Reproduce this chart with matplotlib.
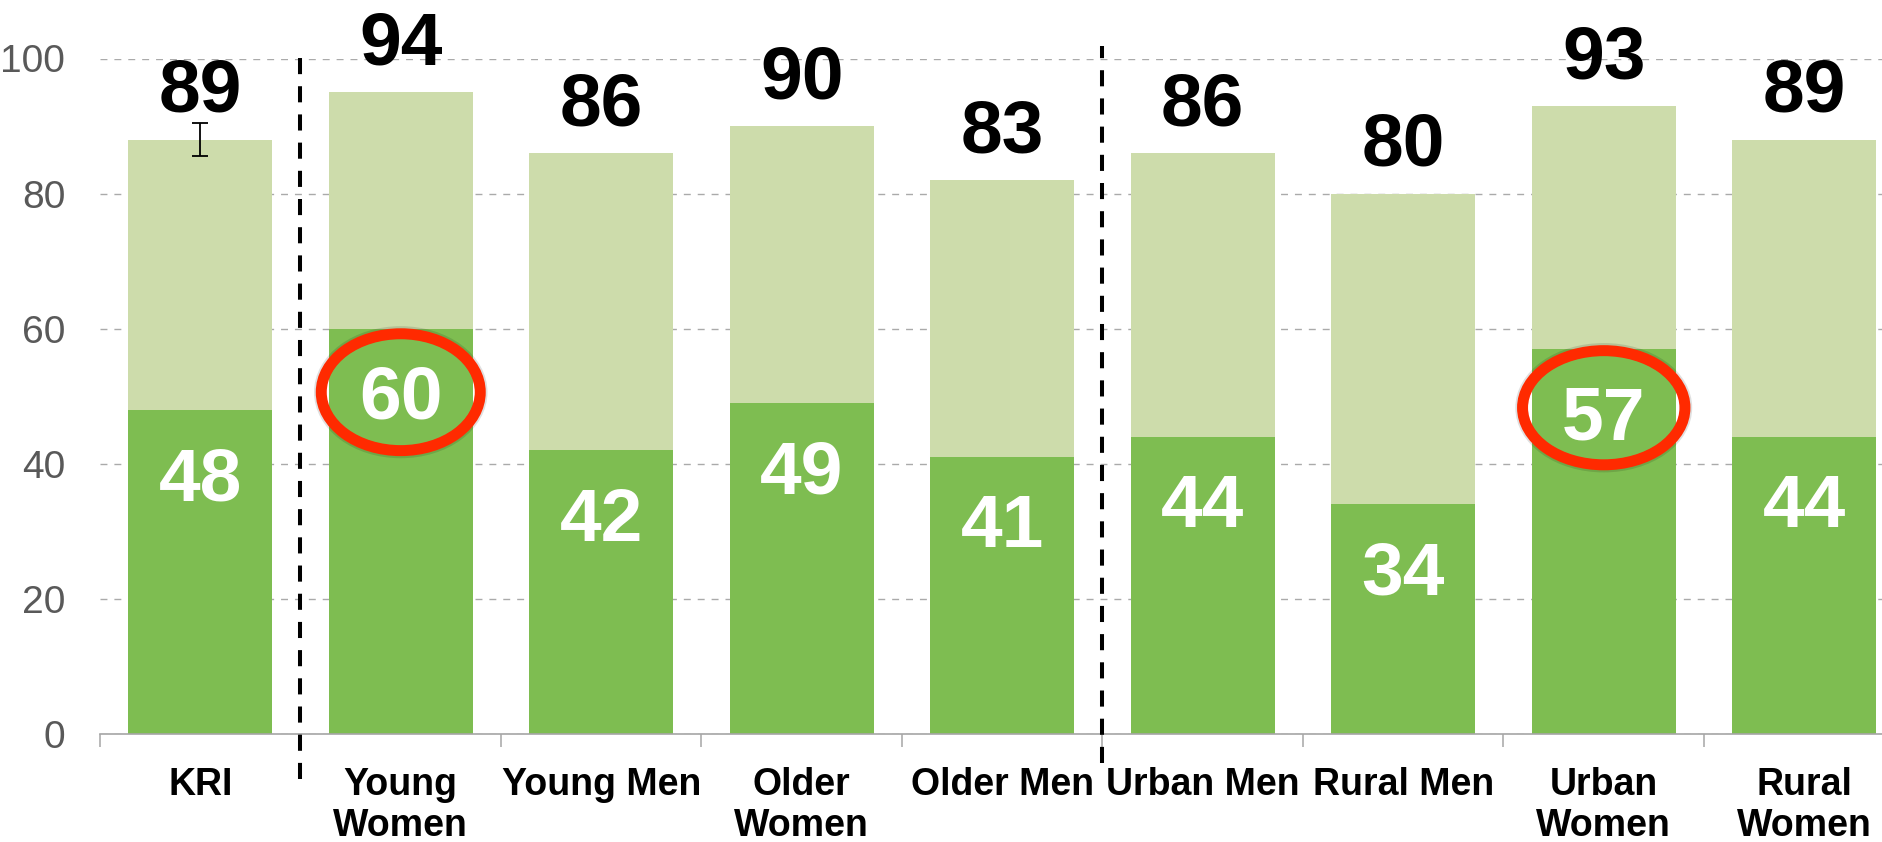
import matplotlib.pyplot as plt
from matplotlib.patches import Ellipse

categories = ["KRI", "Young\nWomen", "Young Men", "Older\nWomen", "Older Men",
              "Urban Men", "Rural Men", "Urban\nWomen", "Rural\nWomen"]
bottom_vals = [48, 60, 42, 49, 41, 44, 34, 57, 44]
total_vals = [88, 95, 86, 90, 82, 86, 80, 93, 88]
total_labels = [89, 94, 86, 90, 83, 86, 80, 93, 89]
kri_err = 2.5
circled = [1, 7]

DARK = '#7ebd51'
LIGHT = '#cddcab'
RED = '#ff2a00'
FONT = 'Liberation Sans'


def main():
    fig = plt.figure(figsize=(18.83, 8.42), dpi=100)
    ax = fig.add_axes([100 / 1883, 108 / 842, 1804.5 / 1883, 675.5 / 842])

    x = list(range(len(categories)))
    tops = [t - b for t, b in zip(total_vals, bottom_vals)]
    ax.bar(x, bottom_vals, width=0.72, color=DARK, zorder=2)
    ax.bar(x, tops, bottom=bottom_vals, width=0.72, color=LIGHT, zorder=2)

    # error bar on the KRI total
    ax.errorbar(0, total_vals[0], yerr=kri_err, color='black', lw=1.3,
                capsize=5.5, capthick=1.3, zorder=4)

    for i in x:
        ax.annotate(str(total_labels[i]), xy=(i, total_vals[i]),
                    xytext=(0, 20), textcoords='offset points',
                    ha='center', va='baseline', fontsize=54,
                    fontweight='bold', family=FONT, annotation_clip=False)
        ax.annotate(str(bottom_vals[i]), xy=(i, bottom_vals[i]),
                    xytext=(0, -65), textcoords='offset points',
                    ha='center', va='baseline', fontsize=54,
                    fontweight='bold', family=FONT, color='white', zorder=5)

    # red highlight rings
    for i, (cy, w, h) in zip(circled, [(50.6, 0.793, 17.3), (48.3, 0.81, 16.9)]):
        ax.add_patch(Ellipse((i, cy), w + 0.01, h + 0.4, fill=False,
                             ec='black', lw=9, alpha=0.12, zorder=5))
        ax.add_patch(Ellipse((i, cy), w, h, fill=False, ec=RED, lw=7.9,
                             zorder=6))

    # group separators
    ax.plot([0.5, 0.5], [-6.7, 101.9], color='black', lw=2.9,
            dashes=(4, 3), clip_on=False, zorder=3)
    ax.plot([4.5, 4.5], [-4.3, 101.9], color='black', lw=2.9,
            dashes=(4, 3), clip_on=False, zorder=3)

    ax.set_xlim(-0.5, 8.5)
    ax.set_ylim(0, 100)
    ax.set_yticks([0, 20, 40, 60, 80, 100])
    ax.yaxis.grid(True, color='#aaaaaa', lw=1.0, dashes=(5, 5), zorder=0)
    ax.set_axisbelow(True)
    for s in ['top', 'right', 'left']:
        ax.spines[s].set_visible(False)
    ax.spines['bottom'].set_color('#a6a6a6')
    ax.spines['bottom'].set_linewidth(1.2)

    ax.set_xticks(x)
    ax.set_xticklabels(categories, fontsize=27, fontweight='bold',
                       family=FONT, linespacing=1.17)
    ax.set_xticks([i - 0.5 for i in range(len(categories) + 1)], minor=True)
    ax.tick_params(axis='x', which='major', length=0, pad=24)
    ax.tick_params(axis='x', which='minor', length=9.4, width=1.1,
                   color='#a6a6a6', direction='out')
    ax.tick_params(axis='y', length=0, pad=25, labelsize=28,
                   labelcolor='#595959')
    for lbl in ax.get_yticklabels():
        lbl.set_family(FONT)

    fig.savefig('out.png', dpi=100)


if __name__ == "__main__":
    main()
